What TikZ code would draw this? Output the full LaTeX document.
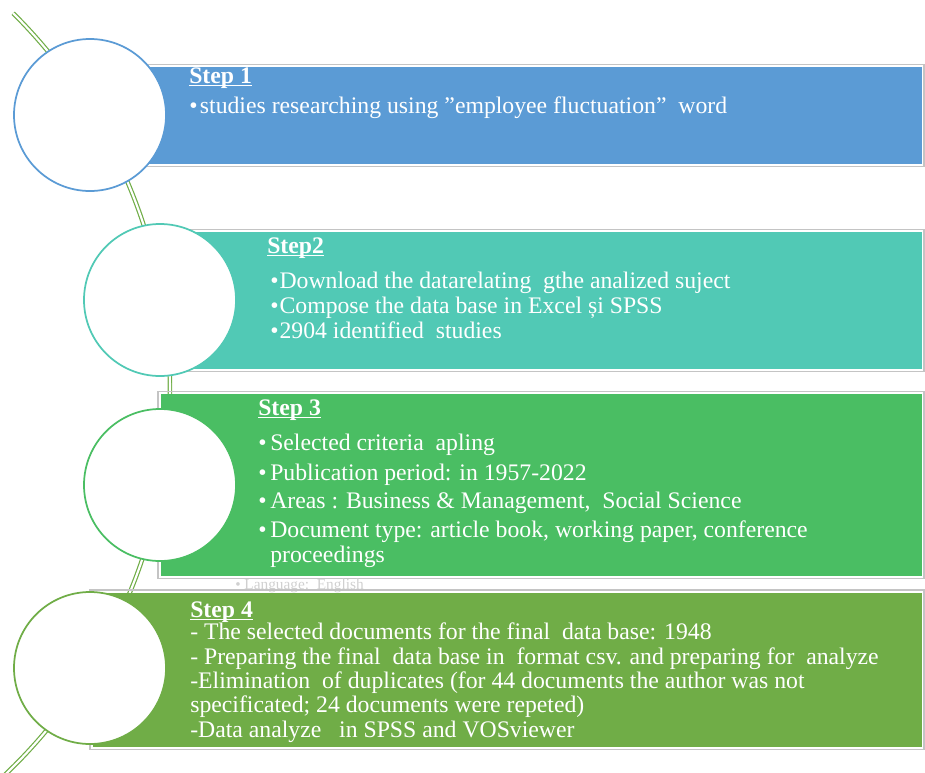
\documentclass[tikz,border=0pt]{standalone}
\usepackage{fontspec}
\setmainfont{Liberation Serif}
\usetikzlibrary{positioning}
\definecolor{stepblue}{HTML}{5B9BD5}
\definecolor{stepteal}{HTML}{51C9B5}
\definecolor{stepgreen}{HTML}{4ABE63}
\definecolor{stepolive}{HTML}{70AD47}
\definecolor{barline}{HTML}{C4C4C4}

\tikzset{
  stepcircle/.style={circle, draw=#1, line width=1.3pt, fill=white, minimum size=114pt, inner sep=0pt},
  stepbar/.style={fill=#1},
  barframe/.style={draw=barline, line width=0.8pt},
  steptitle/.style={anchor=base west, inner sep=0pt, text=white, font=\fontsize{17.8}{20}\selectfont\bfseries},
  % anchored at the baseline of the last line
  steptext/.style={anchor=base west, inner sep=0pt, text=white, align=left, font=\fontsize{17.8}{#1}\selectfont},
  rail/.style={draw=stepolive, double=white, line width=0.9pt, double distance=1.6pt},
}
\newcommand{\bul}[1]{\makebox[#1][l]{\textbullet}}
\newcommand{\steplabel}[1]{\underline{\smash{#1}}}

\begin{document}
\begin{tikzpicture}[x=0.75pt, y=-0.75pt]
  \useasboundingbox (0,0) rectangle (925,772);
  % rail behind the circles
  \coordinate (railc) at (-361,390);
  \draw[rail] (railc) ++(-45.2:531) arc[start angle=-45.2, end angle=47, radius=531];

  % bars
  \draw[barframe] (88,64.5) rectangle (924,166.5);
  \fill[stepbar=stepblue] (90,67) rectangle (922,164);
  \draw[barframe] (158,229.5) rectangle (924,371.5);
  \fill[stepbar=stepteal] (160,232) rectangle (922,369);
  \draw[barframe] (158,391.5) rectangle (924,578.5);
  \fill[stepbar=stepgreen] (161,394) rectangle (922,576);
  \node[anchor=base west, inner sep=0pt, text=barline!80, font=\fontsize{11.5}{11.5}\selectfont] (lang) at (235,589) {\textbullet\ Language:\ \ English};
  \draw[barframe] (90,590) rectangle (924,749.5);
  \fill[stepbar=stepolive] (93,592.5) rectangle (922,747);

  % circles
  \node[stepcircle=stepblue] (c1) at (90,115) {};
  \node[stepcircle=stepteal] (c2) at (160,300) {};
  \node[stepcircle=stepgreen] (c3) at (160,485) {};
  \node[stepcircle=stepolive] (c4) at (90,668) {};

  % texts
  \node[steptitle] (t1) at (189,83) {\steplabel{Step 1}};
  \node[steptext=22] (l1) at (189,113) {\bul{8pt}studies researching using ”employee fluctuation”\ \ word};

  \node[steptitle] (t2) at (267,253) {\steplabel{Step2}};
  \node[steptext=18.75] (l2) at (270,338) {\bul{7pt}Download the datarelating\ \ gthe analized suject\\
    \bul{7pt}Compose the data base in Excel și SPSS\\
    \bul{7pt}2904 identified\ \ studies};

  \node[steptitle] (t3) at (258,415) {\steplabel{Step 3}};
  \node[steptext=18.75] (l3) at (258,562) {\bul{9pt}Selected criteria\ \ apling\\[3.75pt]
    \bul{9pt}Publication period: in 1957-2022\\[2.25pt]
    \bul{9pt}Areas : Business \& Management,\ \ Social Science\\[3pt]
    \bul{9pt}Document type: article book, working paper, conference\\
    \hspace*{9pt}proceedings};

  \node[steptitle] (t4) at (190,617) {\steplabel{Step 4}};
  \node[steptext=18.2] (l4) at (190,737) {- The selected documents for the final\ \ data base: 1948\\
    - Preparing the final\ \ data base in\ \ format csv. and preparing for\ \ analyze\\
    -Elimination\ \ of duplicates (for 44 documents the author was not\\
    specificated; 24 documents were repeted)\\
    -Data analyze\ \ \ in SPSS and VOSviewer};
\end{tikzpicture}
\end{document}
